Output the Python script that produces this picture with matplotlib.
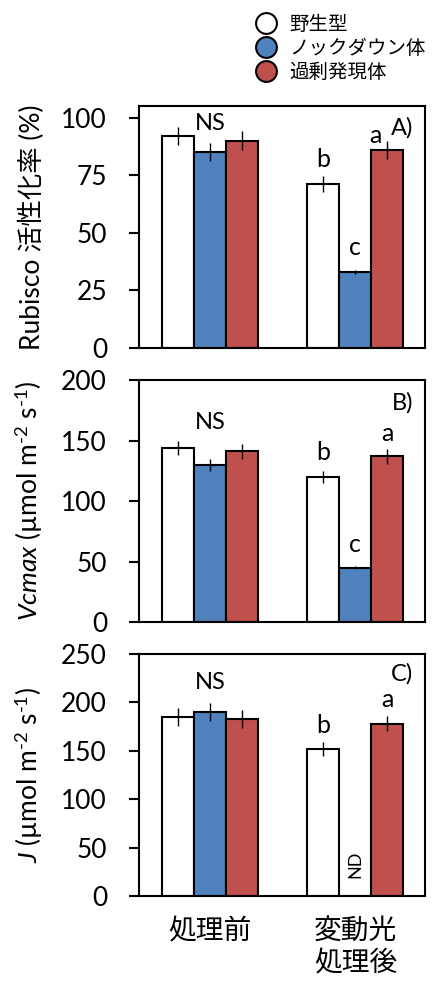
import matplotlib
matplotlib.use("Agg")
import matplotlib.pyplot as plt
from matplotlib.lines import Line2D
import numpy as np

plt.rcParams["font.family"] = ["Lato", "Noto Sans CJK JP", "DejaVu Sans"]
plt.rcParams["mathtext.fontset"] = "custom"
plt.rcParams["mathtext.rm"] = "Lato"
plt.rcParams["mathtext.it"] = "Lato:italic"

# data
groups = ["処理前", "変動光\n処理後"]
lines = ["野生型", "ノックダウン体", "過剰発現体"]
colors = ["white", "#4F81BD", "#C0504D"]

rubisco = [[92, 85, 90], [71, 33, 86]]
rubisco_err = [[4, 4, 4], [3.5, 1, 4]]
vcmax = [[144, 130, 141], [120, 45, 137]]
vcmax_err = [[6, 5, 6], [5, 1, 6]]
jmax = [[185, 190, 183], [152, np.nan, 178]]
jmax_err = [[9, 9, 9], [7, np.nan, 8]]

letters = ["b", "c", "a"]

unit = r" (µmol m$^{\text{-}2}$ s$^{\text{-}1}$)"
panels = [
    (rubisco, rubisco_err, 105, [0, 25, 50, 75, 100], "Rubisco 活性化率 (%)", "A)"),
    (vcmax, vcmax_err, 200, [0, 50, 100, 150, 200], r"$\it{Vcmax}$" + unit, "B)"),
    (jmax, jmax_err, 250, [0, 50, 100, 150, 200, 250], r"$\it{J}$" + unit, "C)"),
]
# label offsets (fraction of y range) and placement tweaks
letter_off = [[0.069, 0.09, 0.02], [0.075, 0.09, 0.065], [0.068, 0.0, 0.068]]
letter_dx = [[0, 0, -0.08], [0, 0, 0], [0, 0, 0]]
ns_off = [0.08, 0.15, 0.086]
tag_y = [0.909, 0.905, 0.92]

fig = plt.figure(figsize=(4.46, 9.97), dpi=100)
bottoms = [0.651, 0.3761, 0.1013]
w = 0.22
xg = np.arange(len(groups))

for k, (vals, errs, ymax, yt, ylab, tag) in enumerate(panels):
    ax = fig.add_axes([0.3117, bottoms[k], 0.6413, 0.2427])
    vals = np.array(vals, dtype=float)
    errs = np.array(errs, dtype=float)
    for i in range(3):
        x = xg + (i - 1) * w
        ax.bar(x, np.nan_to_num(vals[:, i]), w, color=colors[i],
               edgecolor="black", linewidth=1.5, zorder=2)
        ax.errorbar(x, vals[:, i], yerr=errs[:, i], fmt="none",
                    ecolor="black", elinewidth=1, capsize=0, zorder=3)
        if not np.isnan(vals[1, i]):
            ax.text(x[1] + letter_dx[k][i],
                    vals[1, i] + errs[1, i] + ymax * letter_off[k][i],
                    letters[i], ha="center", va="center", fontsize=18)
    ax.text(xg[0], vals[0, 1] + errs[0, 1] + ymax * ns_off[k], "NS",
            ha="center", va="center", fontsize=17)
    ax.text(0.92, tag_y[k], tag, transform=ax.transAxes,
            ha="center", va="center", fontsize=17)
    if k == 2:
        ax.text(xg[1], ymax * 0.13, "ND", rotation=90, ha="center",
                va="center", fontsize=13)

    ax.set_xlim(-0.49, 1.48)
    ax.set_ylim(0, ymax)
    ax.set_yticks(yt)
    ax.tick_params(axis="y", direction="out", length=7, width=1.5,
                   labelsize=19, pad=16)
    ax.tick_params(axis="x", length=0)
    for s in ax.spines.values():
        s.set_linewidth(1.5)
    ax.set_ylabel(ylab, fontsize=19)
    ax.yaxis.set_label_coords(-0.33, 0.5)
    if k == 2:
        ax.set_xticks(xg)
        ax.set_xticklabels(groups, fontsize=20, linespacing=1.3)
        ax.tick_params(axis="x", pad=16)
    else:
        ax.set_xticks([])

handles = [Line2D([], [], marker="o", linestyle="none", markersize=15,
                  markerfacecolor=c, markeredgecolor="black",
                  markeredgewidth=1.5) for c in colors]
fig.legend(handles, lines, loc="upper left", bbox_to_anchor=(0.53, 0.995),
           frameon=False, fontsize=14, handletextpad=0.2, labelspacing=0.3,
           borderaxespad=0.1)

fig.savefig("out.png", dpi=100)
